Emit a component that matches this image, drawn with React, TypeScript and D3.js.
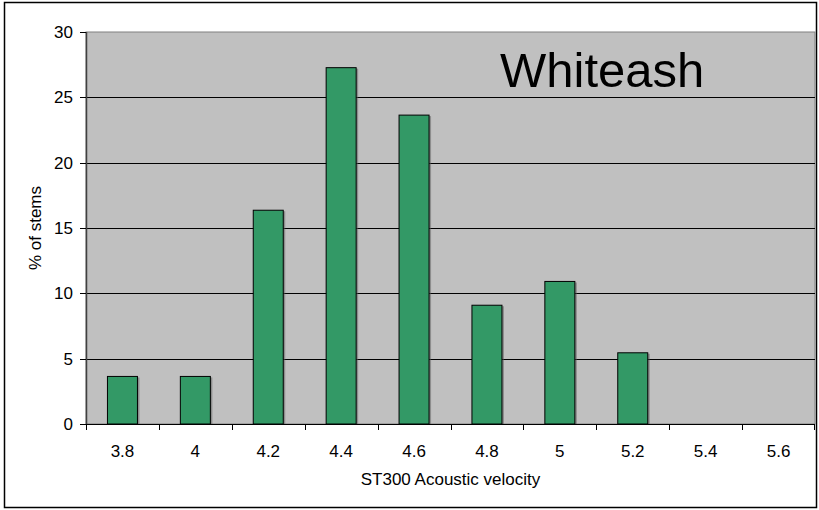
import React from "react";
import * as d3 from "d3";

const categories = ["3.8", "4", "4.2", "4.4", "4.6", "4.8", "5", "5.2", "5.4", "5.6"];
const percentStems = [3.64, 3.64, 16.36, 27.27, 23.64, 9.09, 10.91, 5.45, 0, 0];
const yTicks = [0, 5, 10, 15, 20, 25, 30];

const W = 819;
const H = 510;
const plot = { left: 86, top: 32, right: 815, bottom: 424 };

export default function App() {
  const x = d3
    .scaleBand<string>()
    .domain(categories)
    .range([plot.left, plot.right])
    .paddingInner(0)
    .paddingOuter(0);
  const y = d3.scaleLinear().domain([0, 30]).range([plot.bottom, plot.top]);
  const barW = 30;
  const font = "Arial, 'Liberation Sans', sans-serif";

  return (
    <svg
      width={W}
      height={H}
      style={{ position: "absolute", left: 0, top: 0, display: "block" }}
      fontFamily={font}
    >
      <rect x={0} y={0} width={W} height={H} fill="#fff" />
      <rect x={4.5} y={2.5} width={812} height={505} fill="#fff" stroke="#000" strokeWidth={1.5} />

      {/* plot area */}
      <rect
        x={plot.left}
        y={plot.top}
        width={plot.right - plot.left}
        height={plot.bottom - plot.top}
        fill="#C0C0C0"
        stroke="#808080"
        strokeWidth={1}
      />

      {/* horizontal gridlines */}
      {yTicks
        .filter((t) => t > 0 && t < 30)
        .map((t) => (
          <line
            key={"g" + t}
            x1={plot.left}
            x2={plot.right}
            y1={Math.round(y(t)) + 0.5}
            y2={Math.round(y(t)) + 0.5}
            stroke="#000"
            strokeWidth={1}
          />
        ))}

      {/* bars */}
      {categories.map((c, i) => {
        const v = percentStems[i];
        if (v <= 0) return null;
        const cx = (x(c) as number) + x.bandwidth() / 2;
        const top = y(v);
        return (
          <g key={c}>
            <rect
              x={cx - barW / 2 + 2}
              y={top + 1}
              width={barW}
              height={plot.bottom - top - 1}
              fill="#5a5a5a"
              opacity={0.5}
            />
            <rect
              x={cx - barW / 2}
              y={top}
              width={barW}
              height={plot.bottom - top}
              fill="#339966"
              stroke="#000"
              strokeWidth={1}
            />
          </g>
        );
      })}

      {/* y axis */}
      <line x1={plot.left + 0.5} x2={plot.left + 0.5} y1={plot.top} y2={plot.bottom} stroke="#404040" strokeWidth={1.5} />
      {yTicks.map((t) => (
        <g key={"y" + t}>
          <line
            x1={plot.left - 6}
            x2={plot.left}
            y1={Math.round(y(t)) + 0.5}
            y2={Math.round(y(t)) + 0.5}
            stroke="#000"
          />
          <text x={plot.left - 13} y={y(t)} dy="0.35em" textAnchor="end" fontSize={17} fill="#000">
            {t}
          </text>
        </g>
      ))}

      {/* x axis */}
      <line x1={plot.left} x2={plot.right} y1={plot.bottom + 0.5} y2={plot.bottom + 0.5} stroke="#000" strokeWidth={1} />
      {categories.map((c) => (
        <line
          key={"t" + c}
          x1={Math.round(x(c) as number) + 0.5}
          x2={Math.round(x(c) as number) + 0.5}
          y1={plot.bottom}
          y2={plot.bottom + 6}
          stroke="#000"
        />
      ))}
      <line
        x1={plot.right - 0.5}
        x2={plot.right - 0.5}
        y1={plot.bottom}
        y2={plot.bottom + 6}
        stroke="#000"
      />
      {categories.map((c) => (
        <text
          key={"l" + c}
          x={(x(c) as number) + x.bandwidth() / 2}
          y={457}
          textAnchor="middle"
          fontSize={17}
          fill="#000"
        >
          {c}
        </text>
      ))}

      {/* axis titles */}
      <text x={(plot.left + plot.right) / 2} y={485} textAnchor="middle" fontSize={17} fill="#000">
        ST300 Acoustic velocity
      </text>
      <text
        transform={`translate(41, ${(plot.top + plot.bottom) / 2}) rotate(-90)`}
        textAnchor="middle"
        fontSize={17}
        fill="#000"
      >
        % of stems
      </text>

      {/* species label */}
      <text x={500} y={87} fontSize={49} fill="#000">
        Whiteash
      </text>
    </svg>
  );
}
